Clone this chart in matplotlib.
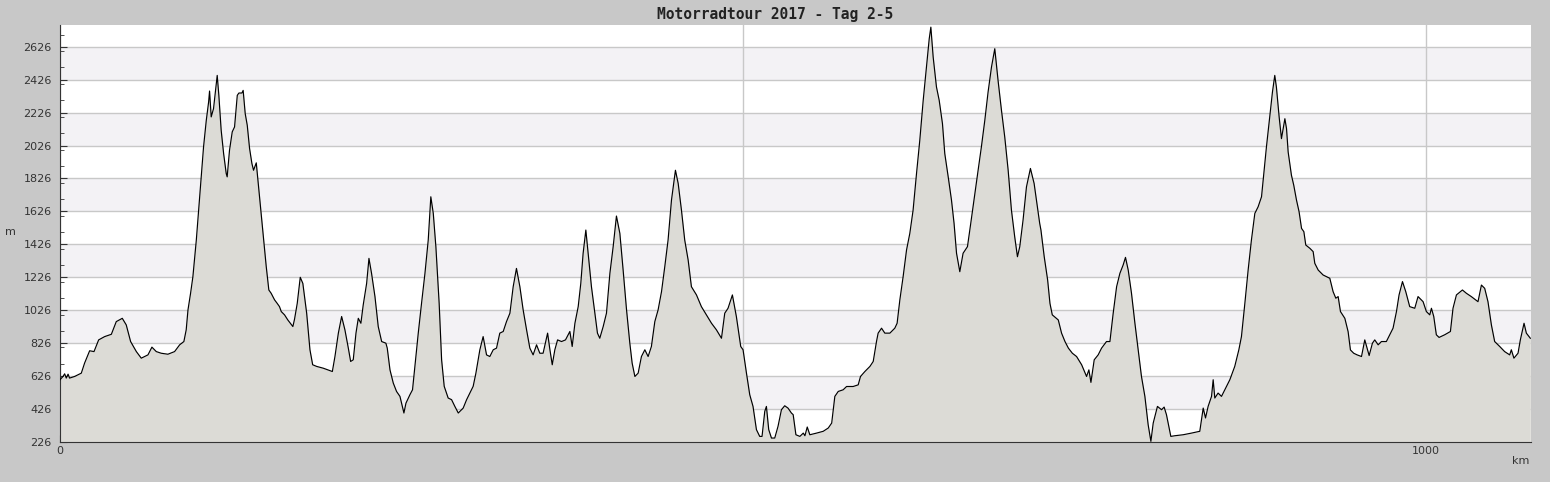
import numpy as np
import matplotlib
matplotlib.use("Agg")
import matplotlib.pyplot as plt
from matplotlib.ticker import MultipleLocator, FixedLocator

title = "Motorradtour 2017 - Tag 2-5"

# distance (km) and elevation (m)
km = [0, 2.2, 3.4, 4.6, 5.9, 7, 10.7, 15.6, 18, 21.7, 24.9, 28.3, 32.7, 37.6, 41.2, 45.6,
      48.5, 51.7, 55.9, 59.5, 64.4, 67.3, 70.5, 74.1, 79, 83.9, 87.6, 90.7, 92.4, 93.7,
      95.6, 97.3, 99.8, 101.5, 103.4, 105.1, 107.1, 108.8, 109.5, 110.7, 112.4, 113.9,
      115.1, 116.3, 118, 119.8, 121.7, 122.4, 124.1, 126.1, 127.8, 129.8, 131, 133.2,
      134.1, 135.6, 137.1, 138.8, 140.5, 141.7, 143.7, 145.4, 147.8, 149.8, 151, 152.9,
      154.6, 157.1, 159, 160.7, 162, 164.4, 166.8, 170.5, 171.7, 173.7, 175.9, 177.8,
      180.6, 183, 185, 187.9, 192.8, 199.4, 201.3, 203.8, 206.2, 208.6, 211.1, 212.8,
      214.7, 216.7, 218.4, 220.3, 222, 224.5, 226.2, 228.1, 230.6, 233, 235.5, 238.6,
      239.6, 241.6, 244, 246.4, 248.9, 250.1, 251.8, 253.3, 256.2, 258.1, 259.8, 262.3,
      264.7, 267.2, 269.6, 271.5, 273.3, 275.2, 277.6, 279.4, 281.3, 284.2, 286.7, 289.1,
      291.6, 295.2, 297.7, 300.1, 302.5, 304.5, 307.4, 309.8, 312.3, 314.7, 317.2, 319.6,
      322, 324.5, 326.9, 329.4, 331.8, 334.2, 336.7, 339.1, 341.6, 344, 346.4, 348.9,
      351.3, 353.7, 357, 358.7, 360.4, 362.3, 364.3, 367.2, 370.1, 373.3, 375, 377,
      379.4, 381.3, 383, 385, 386.7, 389.1, 391.6, 393.5, 395.2, 397.7, 400.1, 402.6,
      405, 407.4, 409.9, 412.3, 414.8, 417.2, 418.9, 420.9, 423.3, 425.7, 428.2, 430.6,
      433, 435.5, 437.9, 440.4, 442.8, 445.2, 447.7, 450.6, 452.6, 455, 457.4, 459.9,
      462.3, 466, 469.6, 473.3, 477, 480.6, 484.3, 486.7, 489.1, 492.3, 495.2, 498.4,
      500.1, 502.6, 505, 507.4, 509.9, 512.3, 514, 516, 517.2, 518.9, 520.9, 523.3,
      525.7, 528.2, 530.6, 533, 535.5, 536.8, 538.8, 541.7, 544.2, 545.4, 547.1, 549,
      553.9, 558.8, 562.5, 565, 567.3, 569.8, 573.4, 575.9, 580.7, 584.4, 586.1, 589.3,
      593, 595.4, 597.8, 599, 601.5, 603.9, 607.6, 611.2, 612.9, 614.9, 617.3, 619.8,
      622.2, 624.6, 627.1, 629.5, 632, 634.4, 636.4, 637.6, 639.3, 641.7, 643.7, 646.1,
      647.8, 650.3, 652.7, 654.6, 656.4, 658.8, 661.2, 664.4, 666.8, 669.8, 672.2, 674.6,
      677.1, 679.5, 682, 684.4, 686.8, 689.3, 691.7, 694.2, 696.6, 699, 701, 702.7,
      705.1, 707.6, 710.5, 713.2, 714.9, 717.3, 718.2, 720.6, 723.1, 724.8, 726.5, 730.9,
      733.3, 735.8, 738.3, 741.2, 744.3, 748, 751.6, 753.3, 754.8, 757.2, 760.1, 762.6,
      766.2, 768.7, 771.1, 773.6, 776, 778.4, 780.1, 782.1, 784.5, 787, 789.4, 791.8,
      794.3, 796.7, 798.7, 800.4, 803.5, 806.5, 808.4, 810.1, 813.3, 816.2, 822.3, 828.4,
      834.5, 837, 838.7, 840.6, 843.1, 844.3, 845.5, 847.9, 850.4, 852.8, 856.5, 860.1,
      863.1, 865, 867.5, 869.9, 872.3, 874.8, 877.2, 879.7, 881.6, 883.3, 885.8, 887.7,
      889.4, 890.6, 892.6, 894.3, 896.8, 898, 899.2, 901.6, 903.3, 905.3, 907.2, 909,
      910.7, 912.1, 915.1, 917.5, 918.7, 921.2, 924.8, 929.7, 932.1, 934.1, 935.8, 937.5,
      940.7, 943.1, 944.8, 947.2, 949.7, 952.9, 955.3, 957, 958.5, 960.9, 962.6, 965.1,
      967.5, 971.1, 973.6, 976, 978.5, 980.4, 982.9, 985.3, 988.2, 991.9, 994.3, 998,
      1000.4, 1002.9, 1004.1, 1005.8, 1007.7, 1009.7, 1013.8, 1018, 1019.9, 1022.4,
      1026.8, 1029.7, 1033.3, 1038.2, 1040.7, 1043.1, 1045.5, 1048, 1050.4, 1054.1,
      1057.7, 1061.4, 1062.6, 1064.5, 1067.5, 1069.2, 1071.9, 1073.6, 1076.5]
elev = [604, 624, 640, 614, 638, 614, 624, 644, 705, 780, 775, 846, 866, 880, 957, 977,
        937, 836, 775, 735, 755, 802, 775, 765, 759, 775, 816, 836, 907, 1028,
        1129, 1230, 1452, 1634, 1836, 2018, 2179, 2290, 2357, 2200, 2250, 2361,
        2452, 2331, 2119, 1977, 1856, 1836, 1997, 2109, 2139, 2331, 2345, 2345,
        2361, 2220, 2149, 2008, 1917, 1876, 1921, 1775, 1573, 1392, 1291, 1149,
        1129, 1089, 1068, 1048, 1018, 998, 967, 927, 971, 1068, 1226, 1189,
        1008, 786, 695, 685, 674, 654, 745, 887, 988, 907, 796, 715,
        725, 887, 977, 947, 1058, 1189, 1341, 1250, 1109, 927, 836, 826,
        796, 664, 584, 533, 503, 462, 402, 462, 513, 543, 685, 887,
        1068, 1250, 1452, 1715, 1614, 1412, 1068, 725, 564, 493, 483, 442,
        402, 432, 483, 523, 564, 644, 786, 866, 755, 745, 786, 796,
        887, 897, 957, 1008, 1169, 1280, 1169, 1028, 907, 796, 755, 816,
        765, 765, 887, 786, 695, 786, 846, 836, 846, 897, 806, 947,
        1048, 1189, 1371, 1513, 1371, 1169, 1008, 887, 856, 927, 1008, 1250,
        1412, 1598, 1493, 1270, 1028, 826, 705, 624, 644, 745, 786, 745,
        806, 957, 1028, 1139, 1291, 1452, 1695, 1876, 1796, 1634, 1452, 1331,
        1169, 1119, 1048, 998, 947, 907, 856, 1008, 1038, 1119, 988, 806,
        786, 644, 513, 442, 301, 260, 260, 412, 442, 301, 250, 250,
        321, 422, 446, 432, 402, 392, 270, 260, 280, 264, 317, 270,
        280, 291, 311, 341, 503, 533, 543, 563, 563, 573, 624, 654,
        685, 715, 836, 887, 917, 887, 887, 917, 947, 1089, 1230, 1392,
        1493, 1634, 1856, 2058, 2301, 2503, 2674, 2745, 2563, 2382, 2301, 2159,
        1977, 1836, 1695, 1553, 1372, 1260, 1372, 1412, 1553, 1735, 1876, 2018,
        2179, 2351, 2503, 2614, 2422, 2240, 2078, 1876, 1634, 1472, 1351, 1412,
        1573, 1775, 1887, 1796, 1695, 1553, 1513, 1351, 1210, 1068, 998, 967,
        887, 836, 796, 765, 745, 695, 624, 664, 588, 725, 755, 796,
        836, 836, 1008, 1169, 1250, 1301, 1347, 1270, 1129, 947, 786, 624,
        503, 331, 230, 341, 442, 422, 438, 392, 260, 264, 270, 280,
        291, 432, 372, 442, 503, 604, 493, 523, 503, 543, 604, 685,
        786, 866, 1068, 1270, 1452, 1614, 1654, 1715, 1876, 2018, 2210, 2351,
        2452, 2381, 2200, 2068, 2189, 2129, 1987, 1846, 1785, 1695, 1624, 1523,
        1503, 1422, 1402, 1382, 1311, 1270, 1240, 1220, 1139, 1099, 1109, 1018,
        977, 896, 785, 765, 755, 745, 846, 796, 751, 826, 846, 816,
        836, 836, 877, 917, 1018, 1119, 1200, 1139, 1048, 1038, 1109, 1078,
        1018, 998, 1038, 988, 877, 861, 877, 897, 1038, 1119,
        1149, 1129, 1109, 1078, 1179, 1159, 1078, 937, 836, 806,
        775, 755, 786, 735, 765, 846, 947, 887, 856]

y_ticks = np.arange(226, 2627, 200)
x_ticks = [0, 500, 1000]
x_tick_labels = ["0", "", "1000"]

fig = plt.figure(figsize=(15.5, 4.82), dpi=100, facecolor="#c8c8c8")
ax = fig.add_axes([60 / 1550, 40 / 482, 1471 / 1550, 417 / 482])
ax.set_facecolor("white")

# alternating light bands
for lo in y_ticks[1::2]:
    ax.axhspan(lo, lo + 200, color="#f3f2f5", zorder=0, lw=0)

ax.grid(True, which="major", color="#c8c8c8", lw=1, zorder=0.5)
ax.set_axisbelow(True)

ax.fill_between(km, elev, 226, color="#dcdbd6", zorder=2, lw=0)
ax.plot(km, elev, color="black", lw=0.85, zorder=3)

ax.set_xlim(0, 1077)
ax.set_ylim(226, 2758)
ax.set_yticks(y_ticks)
ax.yaxis.set_minor_locator(MultipleLocator(100))
ax.xaxis.set_major_locator(FixedLocator(x_ticks))
ax.set_xticklabels(x_tick_labels)
ax.xaxis.set_minor_locator(MultipleLocator(100))

ax.tick_params(which="both", direction="in", color="#333333", labelcolor="#333333",
               labelsize=8)
ax.tick_params(which="major", length=5)
ax.tick_params(which="minor", length=3)
ax.tick_params(axis="y", pad=6)
ax.tick_params(axis="x", pad=3)

for s in ["top", "right"]:
    ax.spines[s].set_visible(False)
for s in ["left", "bottom"]:
    ax.spines[s].set_color("#333333")

fig.text(0.5, 1 - 14 / 482, title, ha="center", va="center",
         family="DejaVu Sans Mono", weight="bold", fontsize=10.5, color="#222222")
fig.text(10 / 1550, 1 - 232 / 482, "m", ha="center", va="center", fontsize=8,
         color="#333333")
fig.text(1521 / 1550, 1 - 461 / 482, "km", ha="center", va="center", fontsize=8,
         color="#333333")

fig.savefig("out.png", dpi=100, facecolor=fig.get_facecolor())
